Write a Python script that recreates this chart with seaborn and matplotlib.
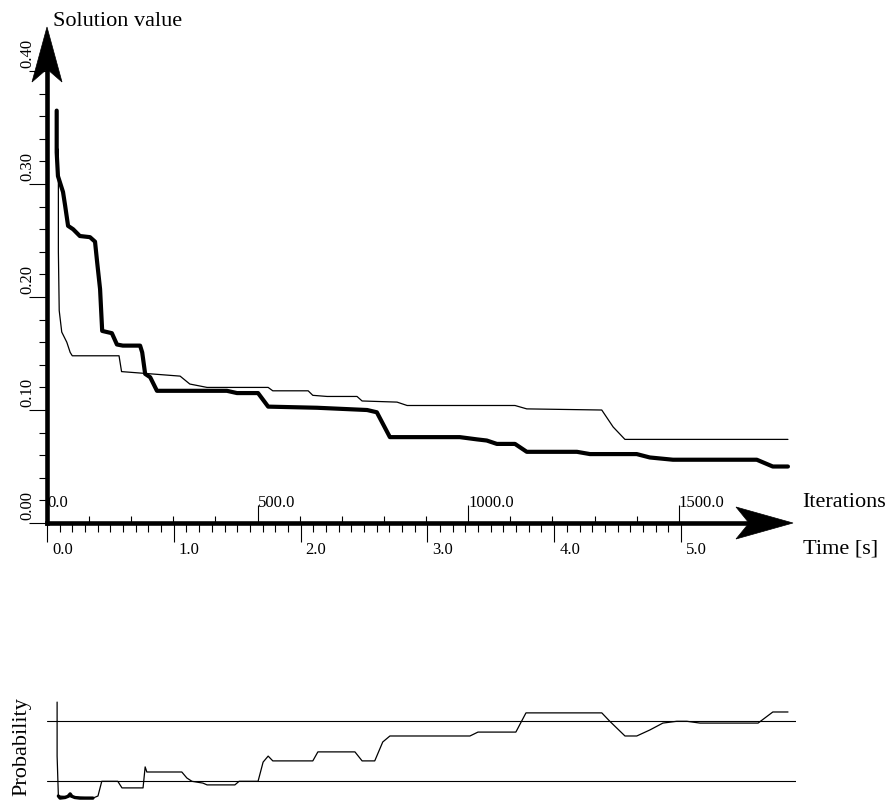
import numpy as np
import seaborn as sns
import matplotlib
matplotlib.use("Agg")
import matplotlib.pyplot as plt
from matplotlib.patches import Polygon
from matplotlib.transforms import ScaledTranslation

# best solution value over the iterations (thick and thin run)
thick_iter = [23, 23, 26, 38, 43, 50, 62, 78, 102, 114, 119, 126, 131, 154, 166, 180,
              221, 226, 233, 245, 261, 427, 451, 501, 525, 641, 760, 783, 814, 980,
              1021, 1044, 1068, 1111, 1139, 1258, 1289, 1400, 1431, 1486, 1685, 1723, 1759]
thick_value = [0.365, 0.328, 0.307, 0.293, 0.281, 0.263, 0.260, 0.254, 0.253, 0.249, 0.231,
               0.207, 0.170, 0.168, 0.158, 0.157, 0.157, 0.151, 0.132, 0.129, 0.117, 0.117,
               0.115, 0.115, 0.103, 0.102, 0.100, 0.098, 0.076, 0.076, 0.074, 0.073, 0.070,
               0.070, 0.063, 0.063, 0.061, 0.061, 0.058, 0.056, 0.056, 0.050, 0.050]

thin_iter = [27, 27, 29, 35, 47, 55, 60, 171, 177, 316, 339, 380, 525, 536, 620, 631, 665,
             736, 748, 831, 855, 980, 1111, 1139, 1317, 1344, 1372, 1533, 1759]
thin_value = [0.331, 0.240, 0.188, 0.169, 0.160, 0.151, 0.148, 0.148, 0.134, 0.130, 0.123,
              0.120, 0.120, 0.117, 0.117, 0.113, 0.112, 0.112, 0.108, 0.107, 0.104, 0.104,
              0.104, 0.101, 0.100, 0.085, 0.074, 0.074, 0.074]

# probability trace (lower line = 0, upper line = 1)
prob_iter = [24, 24, 27, 109, 121, 130, 168, 178, 228, 233, 237, 320, 332, 344, 370, 380,
             446, 456, 501, 513, 525, 536, 631, 643, 731, 748, 778, 797, 814, 1004, 1023,
             1113, 1137, 1317, 1336, 1372, 1400, 1431, 1462, 1495, 1519, 1550, 1688, 1723, 1759]
prob_value = [1.32, 0.42, -0.245, -0.28, -0.245, 0.0, 0.0, -0.11, -0.11, 0.24, 0.155, 0.155,
              0.055, 0.0, -0.03, -0.06, -0.06, 0.0, 0.0, 0.32, 0.42, 0.34, 0.34, 0.49, 0.49,
              0.34, 0.34, 0.655, 0.755, 0.755, 0.82, 0.82, 1.14, 1.14, 1.0, 0.755, 0.755,
              0.855, 0.97, 1.0, 1.0, 0.97, 0.97, 1.155, 1.155]
prob_start_iter = [27, 31, 43, 50, 55, 59, 66, 78, 109]
prob_start_value = [-0.245, -0.28, -0.27, -0.25, -0.21, -0.25, -0.27, -0.28, -0.28]
prob_levels = [0.0, 1.0]

y_major = [0.0, 0.1, 0.2, 0.3, 0.4]
iter_major = [0, 500, 1000, 1500]
time_major = [0.0, 1.0, 2.0, 3.0, 4.0, 5.0]
ITERS_PER_SEC = 301.0

W, H, DPI = 893, 803, 100


def fx(px):
    return px / W


def fy(py):
    return 1 - py / H


def add_head(fig, ax, tip, up, length, half_width, notch):
    # stealth style arrow head, sizes in pixels
    pts = np.array([[0, 0], [-length, half_width], [-length + notch, 0],
                    [-length, -half_width]], dtype=float) / DPI
    if up:
        pts = np.column_stack([-pts[:, 1], pts[:, 0]])
    trans = fig.dpi_scale_trans + ScaledTranslation(tip[0], tip[1], ax.transAxes)
    fig.add_artist(Polygon(pts, closed=True, transform=trans, facecolor="black",
                           edgecolor="black", linewidth=0.5))


sns.set_style("ticks", {"axes.edgecolor": "black", "xtick.color": "black",
                        "ytick.color": "black", "text.color": "black",
                        "axes.labelcolor": "black"})
plt.rcParams["font.family"] = ["Liberation Serif", "DejaVu Serif"]

fig = plt.figure(figsize=(W / DPI, H / DPI), dpi=DPI)

# main chart
ax = fig.add_axes([fx(47), fy(524), fx(793) - fx(47), fy(28) - fy(524)])
ax.patch.set_alpha(0)
sns.lineplot(x=thin_iter, y=thin_value, ax=ax, color="black", linewidth=0.9,
             estimator=None, sort=False)
sns.lineplot(x=thick_iter, y=thick_value, ax=ax, color="black", linewidth=3.0,
             estimator=None, sort=False)
ax.set_xlim(0, 1771)
ax.set_ylim(0, 0.439)
ax.set_xlabel("")
ax.set_ylabel("")

for s in ["top", "right"]:
    ax.spines[s].set_visible(False)
for s in ["left", "bottom"]:
    ax.spines[s].set_linewidth(3.3)
    ax.spines[s].set_capstyle("projecting")
ax.spines["left"].set_bounds(0, 0.41)
ax.spines["bottom"].set_bounds(0, 1690)

ax.set_yticks(y_major)
ax.set_yticklabels([f"{v:.2f}" for v in y_major])
ax.set_yticks(np.arange(0, 0.401, 0.02), minor=True)
ax.tick_params(axis="y", which="major", direction="out", length=13, width=0.8,
               pad=-4.5, labelsize=12, labelrotation=90)
ax.tick_params(axis="y", which="minor", direction="out", length=5.5, width=0.8)

ax.set_xticks(iter_major)
ax.set_xticklabels([f"{v:.1f}" for v in iter_major])
ax.set_xticks(np.arange(0, 1501, 100), minor=True)
ax.tick_params(axis="x", which="major", direction="in", length=13, width=0.8,
               pad=-21, labelsize=12)
ax.tick_params(axis="x", which="minor", direction="in", length=5.3, width=0.8)

lift = ScaledTranslation(0, 4 / DPI, fig.dpi_scale_trans)
for lab in ax.get_yticklabels():
    lab.set_va("bottom")
    lab.set_ha("right")
    lab.set_transform(lab.get_transform() + lift)
for lab in ax.get_xticklabels():
    lab.set_ha("left")

# time axis below the same line
sec = ax.secondary_xaxis("bottom", functions=(lambda it: np.asarray(it) / ITERS_PER_SEC,
                                              lambda s: np.asarray(s) * ITERS_PER_SEC))
sec.spines["bottom"].set_visible(False)
sec.set_xticks(time_major)
sec.set_xticklabels([f"{v:.1f}" for v in time_major])
sec.set_xticks(np.arange(0, 5.01, 0.1), minor=True)
sec.tick_params(axis="x", which="major", direction="out", length=13.5, width=0.8,
                pad=-0.5, labelsize=12)
sec.tick_params(axis="x", which="minor", direction="out", length=6.3, width=0.8)
shift = ScaledTranslation(5 / DPI, 0, fig.dpi_scale_trans)
for lab in sec.get_xticklabels():
    lab.set_ha("left")
    lab.set_transform(lab.get_transform() + shift)

add_head(fig, ax, (1, 0), False, 57, 16, 13)
add_head(fig, ax, (0, 1), True, 55, 15, 13)

fig.text(fx(53), fy(26), "Solution value", fontsize=16, ha="left", va="baseline")
fig.text(fx(802), fy(507), "Iterations", fontsize=16, ha="left", va="baseline")
fig.text(fx(803), fy(554), "Time [s]", fontsize=16, ha="left", va="baseline")

# probability strip
ax2 = fig.add_axes([fx(47), 0, fx(796) - fx(47), 113 / H])
ax2.patch.set_alpha(0)
for lvl in prob_levels:
    ax2.axhline(lvl, color="black", linewidth=0.8)
sns.lineplot(x=prob_iter, y=prob_value, ax=ax2, color="black", linewidth=0.9,
             estimator=None, sort=False)
sns.lineplot(x=prob_start_iter, y=prob_start_value, ax=ax2, color="black", linewidth=2.4,
             estimator=None, sort=False)
ax2.set_xlim(0, 1778)
ax2.set_ylim(-0.345, 1.538)
ax2.set_xticks([])
ax2.set_yticks([])
for s in ax2.spines.values():
    s.set_visible(False)
ax2.set_xlabel("")
ax2.set_ylabel("Probability", fontsize=16, labelpad=11)

fig.savefig("out.png", dpi=DPI)
